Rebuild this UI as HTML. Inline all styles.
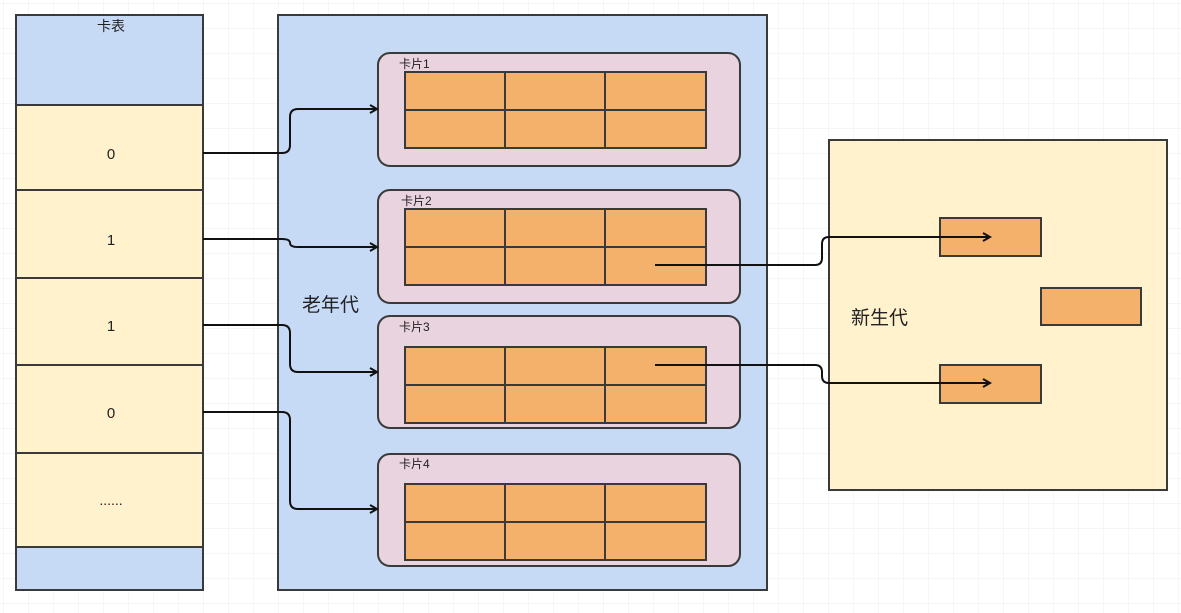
<!DOCTYPE html>
<html><head><meta charset="utf-8"><style>
html,body{margin:0;padding:0;width:1181px;height:613px;overflow:hidden;background:#fff}
svg{display:block}
text{font-family:"Liberation Sans","Noto Sans CJK SC",sans-serif;fill:#222}
</style></head><body>
<svg width="1181" height="613" viewBox="0 0 1181 613" xmlns="http://www.w3.org/2000/svg">
<defs>
<pattern id="g" width="25" height="25" patternUnits="userSpaceOnUse" x="4" y="4">
<path d="M25 0V25M0 25H25" fill="none" stroke="#eceef2" stroke-width="1"/>
</pattern>
<marker id="a" markerWidth="10" markerHeight="10" refX="8" refY="5" orient="auto" markerUnits="userSpaceOnUse">
<path d="M1 1L8 5L1 9" fill="none" stroke="#111" stroke-width="2"/>
</marker>
</defs>
<rect width="1181" height="613" fill="url(#g)"/>
<g stroke="#3a3a3a" stroke-width="2">
<!-- card table -->
<rect x="16" y="15" width="187" height="575" fill="#c7daf5"/>
<rect x="16" y="105" width="187" height="442" fill="#fff2cc"/>
<line x1="16" y1="190" x2="203" y2="190"/>
<line x1="16" y1="278" x2="203" y2="278"/>
<line x1="16" y1="365" x2="203" y2="365"/>
<line x1="16" y1="453" x2="203" y2="453"/>
<!-- old gen -->
<rect x="278" y="15" width="489" height="575" fill="#c7daf5"/>
<!-- cards -->
<rect x="378" y="53" width="362" height="113" rx="12" fill="#e9d3de"/>
<rect x="378" y="190" width="362" height="113" rx="12" fill="#e9d3de"/>
<rect x="378" y="316" width="362" height="112" rx="12" fill="#e9d3de"/>
<rect x="378" y="454" width="362" height="112" rx="12" fill="#e9d3de"/>
<g fill="#f4b16b">
<rect x="405" y="72" width="301" height="76"/>
<rect x="405" y="209" width="301" height="76"/>
<rect x="405" y="347" width="301" height="76"/>
<rect x="405" y="484" width="301" height="76"/>
</g>
<path d="M505 72V148M605 72V148M405 110H706 M505 209V285M605 209V285M405 247H706 M505 347V423M605 347V423M405 385H706 M505 484V560M605 484V560M405 522H706" fill="none"/>
<!-- young gen -->
<rect x="829" y="140" width="338" height="350" fill="#fff2cc"/>
<rect x="940" y="218" width="101" height="38" fill="#f4b16b"/>
<rect x="1041" y="288" width="100" height="37" fill="#f4b16b"/>
<rect x="940" y="365" width="101" height="38" fill="#f4b16b"/>
</g>
<g fill="none" stroke="#111" stroke-width="2" marker-end="url(#a)">
<path d="M203 153H282Q290 153 290 145V117Q290 109 298 109H377"/>
<path d="M203 239H282Q290 239 290 243Q290 247 298 247H377"/>
<path d="M203 325H282Q290 325 290 333V364Q290 372 298 372H377"/>
<path d="M203 412H282Q290 412 290 420V501Q290 509 298 509H377"/>
<path d="M655 265H815Q822 265 822 258V244Q822 237 829 237H990"/>
<path d="M655 365H815Q822 365 822 372V376Q822 383 829 383H990"/>
</g>
<text x="111" y="31" font-size="14" text-anchor="middle">卡表</text>
<text x="111" y="159" font-size="15" text-anchor="middle">0</text>
<text x="111" y="245" font-size="15" text-anchor="middle">1</text>
<text x="111" y="331" font-size="15" text-anchor="middle">1</text>
<text x="111" y="418" font-size="15" text-anchor="middle">0</text>
<text x="111" y="505" font-size="14" text-anchor="middle">......</text>
<text x="302" y="311" font-size="19">老年代</text>
<text x="851" y="324" font-size="19">新生代</text>
<text x="399" y="68" font-size="12">卡片1</text>
<text x="401" y="205" font-size="12">卡片2</text>
<text x="399" y="331" font-size="12">卡片3</text>
<text x="399" y="468" font-size="12">卡片4</text>
</svg>
</body></html>
